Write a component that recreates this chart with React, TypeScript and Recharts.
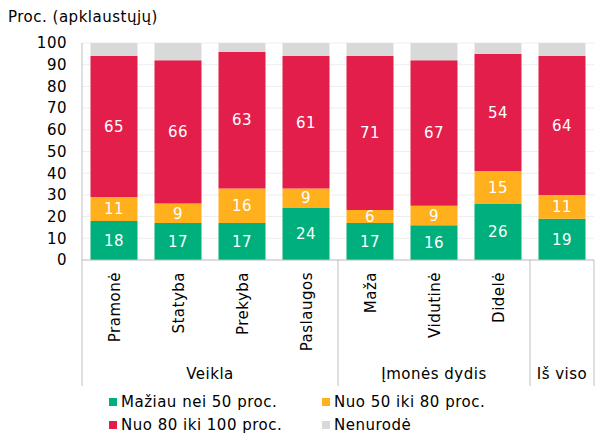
import React from 'react';
import { BarChart, Bar, XAxis, YAxis, CartesianGrid, LabelList } from 'recharts';

const categories = ['Pramonė', 'Statyba', 'Prekyba', 'Paslaugos', 'Maža', 'Vidutinė', 'Didelė', 'Iš viso'];
const tickLabels = ['Pramonė', 'Statyba', 'Prekyba', 'Paslaugos', 'Maža', 'Vidutinė', 'Didelė', ''];
const groupLabels = ['Veikla', 'Įmonės dydis', 'Iš viso'];
const groupSizes = [4, 3, 1];
const under50 = [18, 17, 17, 24, 17, 16, 26, 19];
const from50to80 = [11, 9, 16, 9, 6, 9, 15, 11];
const from80to100 = [65, 66, 63, 61, 71, 67, 54, 64];
const notSpecified = [6, 8, 4, 6, 6, 8, 5, 6];
const yTicks = [0, 10, 20, 30, 40, 50, 60, 70, 80, 90, 100];

const seriesNames = ['Mažiau nei 50 proc.', 'Nuo 50 iki 80 proc.', 'Nuo 80 iki 100 proc.', 'Nenurodė'];
const colors = ['#00B07C', '#FFB01C', '#E31E4B', '#D9D9D9'];

const data = categories.map((c, i) => ({
  name: c,
  a: under50[i],
  b: from50to80[i],
  c: from80to100[i],
  d: notSpecified[i],
}));

const FONT = '"DejaVu Sans", Verdana, sans-serif';
const LS = 0.5;
const LINE = '#BFBFBF';

const groupStarts: number[] = [];
{
  let s = 0;
  groupSizes.forEach((n) => {
    groupStarts.push(s);
    s += n;
  });
}

const CustomTick = (props: any) => {
  const { x, y, payload, index } = props;
  const half = payload && payload.offset ? payload.offset : 32;
  const band = half * 2;
  const label = tickLabels[index] ?? '';
  const gi = groupStarts.indexOf(index);
  const els: React.ReactNode[] = [];
  if (label) {
    els.push(
      <text
        key="t"
        x={0}
        y={0}
        transform={`translate(${x + 6},${y + 12}) rotate(-90)`}
        textAnchor="end"
        fontSize={15}
        fontFamily={FONT}
        letterSpacing={LS}
        fill="#000"
      >
        {label}
      </text>
    );
  }
  if (gi >= 0) {
    const left = x - half;
    const w = groupSizes[gi] * band;
    els.push(<line key="l" x1={left} x2={left} y1={y} y2={y + 126} stroke={LINE} strokeWidth={1} />);
    els.push(
      <text key="g" x={left + w / 2} y={y + 119} textAnchor="middle" fontSize={15} fontFamily={FONT} letterSpacing={LS} fill="#000">
        {groupLabels[gi]}
      </text>
    );
    if (gi === groupSizes.length - 1) {
      els.push(<line key="r" x1={left + w} x2={left + w} y1={y} y2={y + 126} stroke={LINE} strokeWidth={1} />);
    }
  }
  return <g>{els}</g>;
};

const legendPos = [
  { left: 109, top: 398 },
  { left: 322, top: 398 },
  { left: 109, top: 421 },
  { left: 322, top: 421 },
];

export default function App() {
  return (
    <div style={{ position: 'absolute', left: 0, top: 0, width: 595, height: 434, background: '#fff', fontFamily: FONT, letterSpacing: LS }}>
      <BarChart
        width={595}
        height={434}
        data={data}
        margin={{ top: 43, right: 1, left: 22, bottom: 44 }}
        barCategoryGap={8.5}
        style={{ position: 'absolute', left: 0, top: 0 }}
      >
        <CartesianGrid vertical={false} stroke="#EEEEEE" />
        <XAxis
          dataKey="name"
          height={130}
          axisLine={{ stroke: LINE }}
          tickLine={false}
          tickSize={0}
          tickMargin={0}
          interval={0}
          tick={<CustomTick />}
        />
        <YAxis
          width={60}
          domain={[0, 100]}
          ticks={yTicks}
          interval={0}
          axisLine={{ stroke: LINE }}
          tickLine={false}
          tickSize={0}
          tickMargin={15}
          tick={{ fontSize: 15, fill: '#000', fontFamily: FONT, letterSpacing: LS }}
        />
        <Bar dataKey="a" stackId="s" fill={colors[0]} isAnimationActive={false}>
          <LabelList dataKey="a" position="center" fill="#fff" fontSize={15} fontFamily={FONT} letterSpacing={LS} />
        </Bar>
        <Bar dataKey="b" stackId="s" fill={colors[1]} isAnimationActive={false}>
          <LabelList dataKey="b" position="center" fill="#fff" fontSize={15} fontFamily={FONT} letterSpacing={LS} />
        </Bar>
        <Bar dataKey="c" stackId="s" fill={colors[2]} isAnimationActive={false}>
          <LabelList dataKey="c" position="center" fill="#fff" fontSize={15} fontFamily={FONT} letterSpacing={LS} />
        </Bar>
        <Bar dataKey="d" stackId="s" fill={colors[3]} isAnimationActive={false} />
      </BarChart>
      <div style={{ position: 'absolute', left: 8, top: 8, fontSize: 15, lineHeight: '18px', color: '#000', whiteSpace: 'nowrap' }}>
        Proc. (apklaustųjų)
      </div>
      {seriesNames.map((n, i) => (
        <div key={n} style={{ position: 'absolute', left: legendPos[i].left, top: legendPos[i].top, height: 12 }}>
          <div style={{ position: 'absolute', left: 0, top: 0, width: 8, height: 8, background: colors[i] }} />
          <div style={{ position: 'absolute', left: 12, top: -5, fontSize: 15, lineHeight: '18px', color: '#000', whiteSpace: 'nowrap' }}>
            {n}
          </div>
        </div>
      ))}
    </div>
  );
}
